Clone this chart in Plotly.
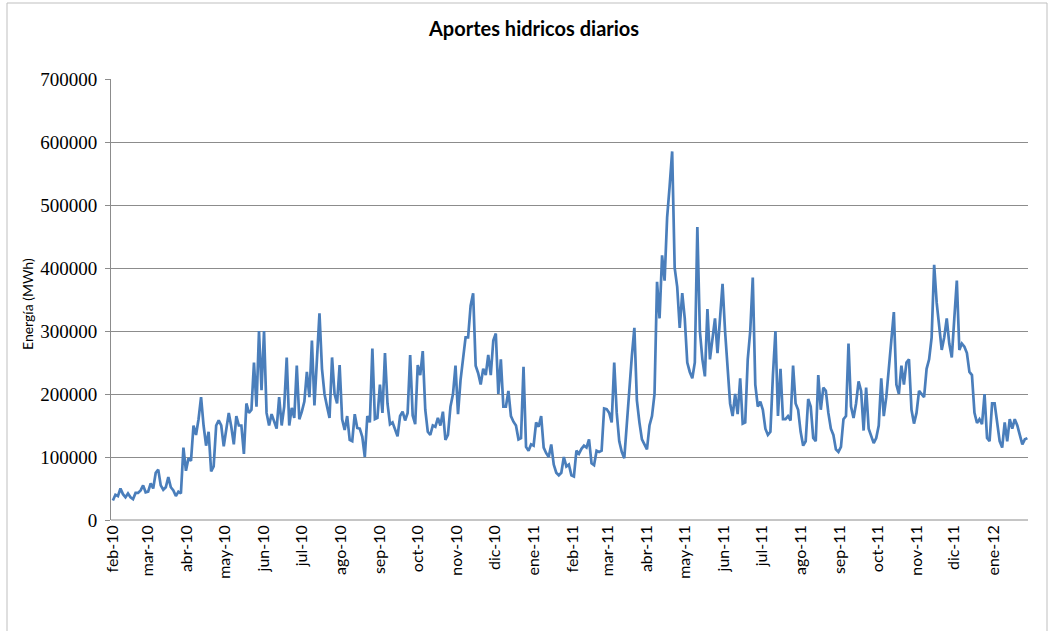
import pandas as pd
import plotly.graph_objects as go

# ---- data (daily hydro inflows, read every 2 days from the picture) ----
inicio = "2010-02-01"
paso_dias = 2

aportes_feb_abr_2010 = [31000, 40000, 38000, 50000, 41000, 36000, 42000, 36000, 33000, 43000,
                        43000, 47000, 55000, 44000, 45000, 58000, 50000, 75000, 80000, 55000,
                        48000, 52000, 68000, 52000, 47000, 38000, 45000, 42000, 115000, 78000,
                        98000, 94000, 150000, 135000, 160000, 195000, 150000, 118000, 140000]
aportes_abr_jul_2010 = [77000, 85000, 150000, 158000, 150000, 117000, 148000, 170000, 148000, 120000,
                        165000, 150000, 150000, 105000, 185000, 170000, 175000, 250000, 180000, 300000,
                        206000, 300000, 170000, 150000, 168000, 158000, 145000, 195000, 150000, 180000,
                        258000, 150000, 178000, 162000, 245000, 160000, 172000, 188000, 235000, 195000,
                        285000, 182000, 255000, 328000]
aportes_jul_oct_2010 = [240000, 200000, 180000, 162000, 258000, 200000, 185000, 246000, 160000, 143000,
                        165000, 127000, 125000, 168000, 146000, 145000, 132000, 100000, 165000, 155000,
                        272000, 160000, 162000, 215000, 170000, 265000, 185000, 152000, 155000, 143000,
                        133000, 165000, 172000, 158000, 170000, 262000, 166000, 152000, 246000, 230000,
                        268000, 175000, 140000, 135000, 150000, 148000, 162000]
aportes_oct_ene_2011 = [150000, 172000, 127000, 135000, 180000, 200000, 245000, 168000, 222000, 255000,
                        290000, 290000, 340000, 360000, 245000, 233000, 215000, 240000, 230000, 262000,
                        230000, 285000, 296000, 200000, 255000, 180000, 180000, 205000, 165000, 156000,
                        150000, 128000, 130000, 243000, 116000, 110000, 120000, 118000, 155000, 148000,
                        165000, 115000, 106000, 100000]
aportes_ene_abr_2011 = [120000, 88000, 75000, 71000, 75000, 100000, 85000, 88000, 71000, 69000,
                        110000, 105000, 113000, 118000, 115000, 128000, 90000, 87000, 110000, 108000,
                        110000, 177000, 176000, 170000, 155000, 250000, 170000, 125000, 108000, 98000,
                        155000, 220000, 260000, 305000, 190000, 155000, 128000, 120000, 112000, 150000,
                        165000, 200000, 378000]
aportes_abr_jul_2011 = [320000, 420000, 380000, 480000, 530000, 585000, 400000, 370000, 305000, 360000,
                        320000, 250000, 235000, 225000, 250000, 465000, 300000, 255000, 228000, 335000,
                        255000, 285000, 320000, 265000, 320000, 375000, 300000, 235000, 185000, 165000,
                        200000, 168000, 225000, 153000, 155000, 255000, 300000, 385000, 215000, 180000,
                        188000, 175000, 145000, 135000]
aportes_jul_oct_2011 = [140000, 230000, 300000, 165000, 240000, 160000, 160000, 165000, 158000, 245000,
                        185000, 175000, 140000, 118000, 125000, 192000, 180000, 130000, 125000, 230000,
                        175000, 210000, 205000, 170000, 145000, 135000, 112000, 108000, 116000, 160000,
                        165000, 280000, 180000, 162000, 185000, 220000, 205000, 142000, 210000, 145000,
                        135000, 122000, 130000]
aportes_oct_dic_2011 = [150000, 225000, 165000, 195000, 245000, 285000, 330000, 215000, 200000, 245000,
                        215000, 250000, 255000, 175000, 153000, 170000, 205000, 200000, 195000, 240000,
                        255000, 290000, 405000, 345000, 305000, 270000, 290000, 320000, 280000, 258000,
                        320000, 380000, 270000, 280000, 275000, 265000, 235000, 230000, 170000, 154000,
                        160000, 152000, 200000, 130000]
aportes_ene_2012 = [125000, 185000, 185000, 150000, 125000, 115000, 155000, 125000, 160000, 145000,
                    160000, 150000, 136000, 120000, 128000, 130000]

aportes = (aportes_feb_abr_2010 + aportes_abr_jul_2010 + aportes_jul_oct_2010 +
           aportes_oct_ene_2011 + aportes_ene_abr_2011 + aportes_abr_jul_2011 +
           aportes_jul_oct_2011 + aportes_oct_dic_2011 + aportes_ene_2012)

meses = ["2010-02-01", "2010-03-01", "2010-04-01", "2010-05-01", "2010-06-01", "2010-07-01",
         "2010-08-01", "2010-09-01", "2010-10-01", "2010-11-01", "2010-12-01", "2011-01-01",
         "2011-02-01", "2011-03-01", "2011-04-01", "2011-05-01", "2011-06-01", "2011-07-01",
         "2011-08-01", "2011-09-01", "2011-10-01", "2011-11-01", "2011-12-01", "2012-01-01"]
etiquetas_meses = ["feb-10", "mar-10", "abr-10", "may-10", "jun-10", "jul-10", "ago-10", "sep-10",
                   "oct-10", "nov-10", "dic-10", "ene-11", "feb-11", "mar-11", "abr-11", "may-11",
                   "jun-11", "jul-11", "ago-11", "sep-11", "oct-11", "nov-11", "dic-11", "ene-12"]
y_ticks = [0, 100000, 200000, 300000, 400000, 500000, 600000, 700000]

titulo = "Aportes hidricos diarios"
titulo_y = "Energía (MWh)"

fechas = pd.date_range(inicio, periods=len(aportes), freq=f"{paso_dias}D")

# ---- figure ----
W, H = 1049, 631
L, R, T, B = 111, 21, 79, 111
pw, ph = W - L - R, H - T - B

def px_x(x):
    return (x - L) / pw

def px_y(y):
    return (H - B - y) / ph

fig = go.Figure()
fig.add_trace(go.Scatter(
    x=fechas, y=aportes, mode="lines",
    line=dict(color="#4A7EBB", width=2.7),
    showlegend=False, hoverinfo="x+y",
))

grid_col = "#8C8C8C"
fig.update_layout(
    width=W, height=H,
    margin=dict(l=L, r=R, t=T, b=B, pad=0),
    paper_bgcolor="white", plot_bgcolor="white",
    font=dict(family="Lato, Open Sans, sans-serif", color="black"),
    xaxis=dict(
        type="date",
        range=["2010-01-30 12:00", "2012-01-28 12:00"],
        tickmode="array", tickvals=meses, ticktext=etiquetas_meses,
        tickangle=-90, ticks="", showgrid=False, zeroline=False,
        showline=False, tickfont=dict(size=16, family="Lato, sans-serif"),
        ticklabelstandoff=1, automargin=False,
    ),
    yaxis=dict(
        range=[0, 700000], tickmode="array", tickvals=y_ticks,
        tickformat="d", showgrid=True, gridcolor=grid_col, gridwidth=1,
        zeroline=False, showline=True, linecolor=grid_col, linewidth=1,
        ticks="outside", ticklen=5, tickcolor=grid_col,
        tickfont=dict(size=19, family="Liberation Serif, serif"),
        ticklabelstandoff=4, automargin=False,
    ),
    annotations=[
        dict(text="<b>" + titulo + "</b>", x=px_x(533), y=px_y(28), xref="paper", yref="paper",
             showarrow=False, xanchor="center", yanchor="middle",
             font=dict(size=20, family="Lato, sans-serif")),
        dict(text=titulo_y, x=px_x(27), y=px_y(304), xref="paper", yref="paper",
             showarrow=False, textangle=-90, xanchor="center", yanchor="middle",
             font=dict(size=14, family="Lato, sans-serif")),
    ],
    shapes=[
        dict(type="line", xref="paper", yref="paper", x0=0, x1=1, y0=0, y1=0,
             line=dict(color=grid_col, width=1)),
        dict(type="rect", xref="paper", yref="paper",
             x0=px_x(7), x1=px_x(1047), y0=px_y(640), y1=px_y(3),
             line=dict(color="#BFBFBF", width=1), layer="below"),
    ],
)

fig.write_html("out.html", config={"displayModeBar": False},
               post_script="document.body.style.margin='0';")
